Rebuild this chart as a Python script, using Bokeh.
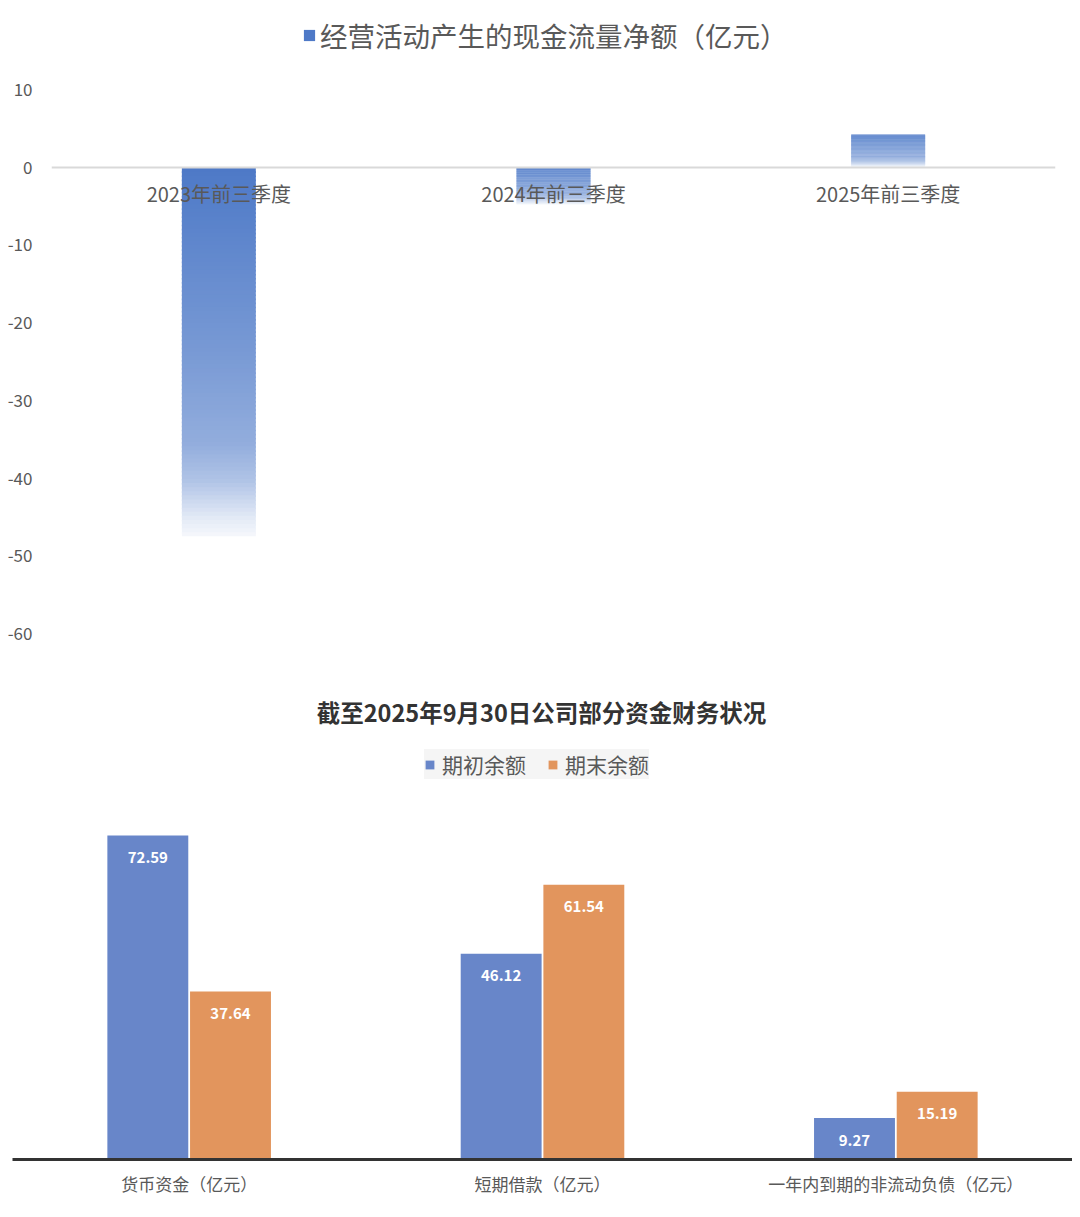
import numpy as np
from bokeh.plotting import figure
from bokeh.models import (ColumnDataSource, FactorRange, Range1d, FixedTicker,
                          Legend, LegendItem, LabelSet, Label)
from bokeh.core.properties import value
from bokeh.transform import dodge
from bokeh.layouts import column
from bokeh.embed import file_html
from bokeh.resources import INLINE

FONT = "Noto Sans CJK SC"

# ---------------- data: top chart ----------------
periods = ["2023年前三季度", "2024年前三季度", "2025年前三季度"]
cash_flow = [-47.5, -4.8, 4.2]
top_series_name = "经营活动产生的现金流量净额（亿元）"
top_ticks = [10, 0, -10, -20, -30, -40, -50, -60]

# ---------------- data: bottom chart ----------------
items = ["货币资金（亿元）", "短期借款（亿元）", "一年内到期的非流动负债（亿元）"]
opening = [72.59, 46.12, 9.27]
closing = [37.64, 61.54, 15.19]
bottom_title = "截至2025年9月30日公司部分资金财务状况"
series_names = ["期初余额", "期末余额"]

BASE = (68, 114, 196)
BLUE = "#6886C9"
ORANGE = "#E2955D"
GREY_TXT = "#595959"

# gradient style stops (position from bar top -> opacity)
G_T = [0.0, 0.5, 0.75, 0.85, 0.95, 1.0]
G_A = [0.95, 0.72, 0.58, 0.42, 0.15, 0.05]


def blend(a):
    r, g, b = (round(255 - a * (255 - c)) for c in BASE)
    return "#%02x%02x%02x" % (r, g, b)


# ---------------- top figure ----------------
# frame extends above the 10 tick to host the legend
p1 = figure(x_range=FactorRange(*periods), y_range=Range1d(-60, 20.3),
            frame_width=1004, frame_height=624,
            min_border_left=51, min_border_right=10, min_border_top=9, min_border_bottom=40,
            output_backend="svg", toolbar_location=None, outline_line_color=None)
p1.frame_align = False
p1.xgrid.visible = False
p1.ygrid.visible = False

N = 90
xs, tops, bottoms, colors = [], [], [], []
for cat, v in zip(periods, cash_flow):
    hi, lo = max(v, 0.0), min(v, 0.0)
    h = hi - lo
    for i in range(N):
        t0 = i / N
        t1 = (i + 1) / N
        xs.append(cat)
        tops.append(hi - t0 * h)
        bottoms.append(max(lo, hi - t1 * h - 0.4 * h / N))
        colors.append(blend(float(np.interp((t0 + t1) / 2, G_T, G_A))))
grad_src = ColumnDataSource(dict(x=xs, top=tops, bottom=bottoms, color=colors))
r_grad = p1.vbar(x="x", top="top", bottom="bottom", width=0.221, fill_color="color",
                 line_color=None, source=grad_src)

xa = p1.xaxis[0]
xa.fixed_location = 0
xa.axis_line_color = "#D9D9D9"
xa.axis_line_width = 2
xa.major_tick_line_color = None
xa.minor_tick_line_color = None
xa.major_tick_in = 0
xa.major_tick_out = 0
xa.major_label_standoff = 12
xa.major_label_text_font = FONT
xa.major_label_text_font_size = "20px"
xa.major_label_text_color = GREY_TXT

ya = p1.yaxis[0]
ya.ticker = FixedTicker(ticks=top_ticks)
ya.major_label_overrides = {t: str(t) for t in top_ticks}
ya.axis_line_color = None
ya.major_tick_line_color = None
ya.minor_tick_line_color = None
ya.major_tick_in = 0
ya.major_tick_out = 0
ya.major_label_standoff = 19
ya.major_label_text_font = FONT
ya.major_label_text_font_size = "17px"
ya.major_label_text_color = GREY_TXT

leg1 = Legend(items=[LegendItem(label=top_series_name, renderers=[r_grad], index=0)],
              location=(251, 578), orientation="horizontal",
              background_fill_alpha=0, border_line_color=None, padding=0, margin=0,
              glyph_width=14, glyph_height=14, label_standoff=4,
              label_text_font=FONT, label_text_font_size="27.5px",
              label_text_color=GREY_TXT)
p1.add_layout(leg1)

# ---------------- bottom figure ----------------
p2 = figure(x_range=FactorRange(*items), y_range=Range1d(0, 105.3),
            frame_width=1060, frame_height=470, y_axis_location=None,
            min_border_left=12, min_border_right=0, min_border_top=16, min_border_bottom=30,
            output_backend="svg", toolbar_location=None, outline_line_color=None)
p2.frame_align = False
p2.xgrid.visible = False
p2.ygrid.visible = False

src2 = ColumnDataSource(dict(item=items, opening=opening, closing=closing,
                             open_lbl=["%.2f" % v for v in opening],
                             close_lbl=["%.2f" % v for v in closing]))
r_open = p2.vbar(x=dodge("item", -0.117, range=p2.x_range), top="opening", width=0.229,
                 fill_color=BLUE, line_color=None, source=src2)
r_close = p2.vbar(x=dodge("item", 0.117, range=p2.x_range), top="closing", width=0.229,
                  fill_color=ORANGE, line_color=None, source=src2)

for off, col, lbl in [(-0.117, "opening", "open_lbl"), (0.117, "closing", "close_lbl")]:
    p2.add_layout(LabelSet(x=dodge("item", off, range=p2.x_range), y=col, text=lbl,
                           y_offset=-22, text_align="center", text_baseline="middle",
                           text_color="white", text_font=value(FONT),
                           text_font_style="bold", text_font_size="15px", source=src2))

xb = p2.xaxis[0]
xb.axis_line_color = "#333333"
xb.axis_line_width = 3
xb.major_tick_line_color = None
xb.minor_tick_line_color = None
xb.major_tick_in = 0
xb.major_tick_out = 0
xb.major_label_standoff = 11
xb.major_label_text_font = FONT
xb.major_label_text_font_size = "17px"
xb.major_label_text_color = GREY_TXT

leg2 = Legend(items=[LegendItem(label=series_names[0], renderers=[r_open]),
                     LegendItem(label=series_names[1], renderers=[r_close])],
              location=(412, 380), orientation="horizontal",
              background_fill_color="#F5F5F5", background_fill_alpha=1,
              border_line_color=None, padding=10, margin=0, spacing=21,
              glyph_width=11, glyph_height=11, label_standoff=7,
              label_text_font=FONT, label_text_font_size="21px",
              label_text_color=GREY_TXT)
p2.add_layout(leg2)

p2.add_layout(Label(x=529, y=448, x_units="screen", y_units="screen", text=bottom_title,
                    text_align="center", text_baseline="middle", text_font=FONT,
                    text_font_style="bold", text_font_size="23.5px", text_color="#333333"))

layout = column(p1, p2, spacing=0)
open("out.html", "w").write(file_html(layout, INLINE))
